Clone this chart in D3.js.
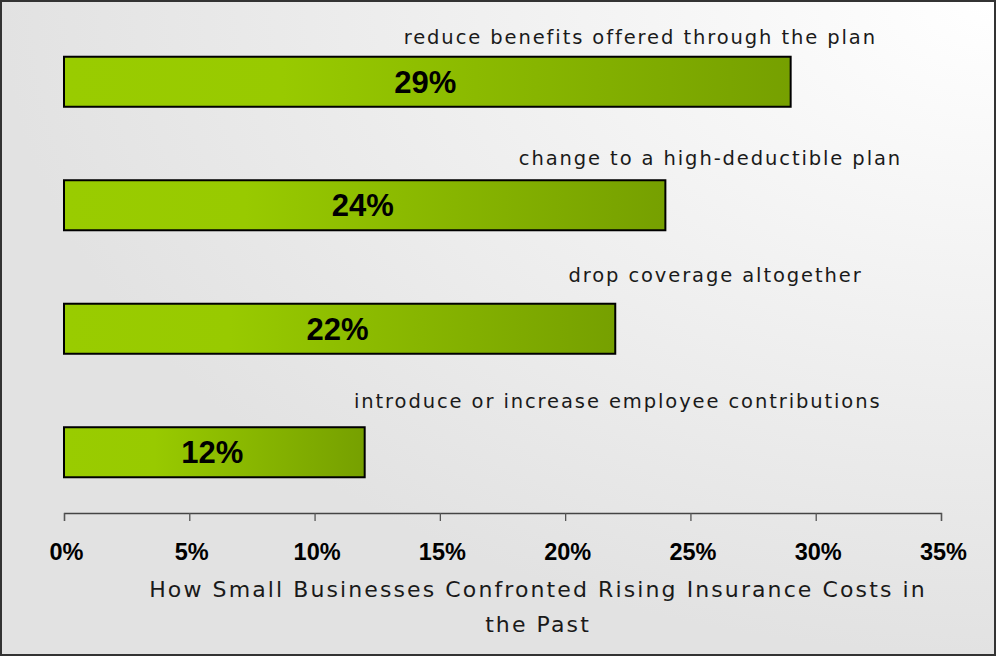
<!DOCTYPE html>
<html><head><meta charset="utf-8">
<script src="https://cdn.jsdelivr.net/npm/d3@7"></script>
<style>
html,body{margin:0;padding:0;background:#fff;}
svg{display:block;}
</style></head>
<body>
<svg id="chart" width="996" height="656"></svg>
<script>
// ---- data ----
const categories = [
  "reduce benefits offered through the plan",
  "change to a high-deductible plan",
  "drop coverage altogether",
  "introduce or increase employee contributions"
];
const values = [29, 24, 22, 12];
const tickValues = [0, 5, 10, 15, 20, 25, 30, 35];
const axisTitleLines = ["How Small Businesses Confronted Rising Insurance Costs in", "the Past"];

// ---- layout (not data) ----
const W = 996, H = 656;
const labelCentrePct = [23.0, 25.8, 26.0, 22.1];   // horizontal centre of category labels, in axis units
const labelGap = [13, 15, 22, 19];                  // px gap between label baseline and bar top

const svg = d3.select("#chart");
const defs = svg.append("defs");

const bg = defs.append("radialGradient").attr("id", "bg")
  .attr("cx", 1).attr("cy", 0).attr("r", 1).attr("fx", 1).attr("fy", 0);
bg.append("stop").attr("offset", 0).attr("stop-color", "#ffffff");
bg.append("stop").attr("offset", 1).attr("stop-color", "#e2e2e2");

const barG = defs.append("linearGradient").attr("id", "barG")
  .attr("x1", 0).attr("y1", 0).attr("x2", 1).attr("y2", 0);
barG.append("stop").attr("offset", 0).attr("stop-color", "#99cc00");
barG.append("stop").attr("offset", 0.3).attr("stop-color", "#98ca00");
barG.append("stop").attr("offset", 1).attr("stop-color", "#76a000");

svg.append("rect").attr("x", 1).attr("y", 1).attr("width", W - 2).attr("height", H - 2)
  .attr("fill", "url(#bg)").attr("stroke", "#333").attr("stroke-width", 2);

const x = d3.scaleLinear().domain([0, 35]).range([64, 941]);
const y = d3.scaleBand().domain(categories).range([20, 514])
  .paddingInner(0.595).paddingOuter(0.2975);

// axis
const axisG = svg.append("g").attr("transform", "translate(0,513)")
  .call(d3.axisBottom(x).tickValues(tickValues).tickSize(8).tickPadding(0).tickFormat(d => d + "%"));
axisG.select(".domain").attr("stroke", "#444").attr("stroke-width", 1.3);
axisG.selectAll(".tick line").attr("stroke", "#555").attr("stroke-width", 1.3);
axisG.selectAll(".tick text")
  .attr("x", 2)
  .attr("y", 47).attr("dy", null)
  .attr("fill", "#000")
  .style("font-family", "'Liberation Sans', Arial, sans-serif")
  .style("font-weight", "bold")
  .style("font-size", "23.5px");

// bars
svg.append("g").selectAll("rect").data(categories).join("rect")
  .attr("x", x(0))
  .attr("y", d => y(d))
  .attr("width", (d, i) => x(values[i]) - x(0))
  .attr("height", y.bandwidth())
  .attr("fill", "url(#barG)")
  .attr("stroke", "#000").attr("stroke-width", 2);

// value labels
svg.append("g").selectAll("text").data(categories).join("text")
  .attr("x", (d, i) => (x(0) + x(values[i])) / 2 - 2)
  .attr("y", d => y(d) + y.bandwidth() / 2 + 11)
  .attr("text-anchor", "middle")
  .style("font-family", "'Liberation Sans', Arial, sans-serif")
  .style("font-weight", "bold")
  .style("font-size", "31px")
  .attr("fill", "#000")
  .text((d, i) => values[i] + "%");

// category labels
svg.append("g").selectAll("text").data(categories).join("text")
  .attr("x", (d, i) => x(labelCentrePct[i]))
  .attr("y", (d, i) => y(d) - labelGap[i])
  .attr("text-anchor", "middle")
  .style("font-family", "'DejaVu Sans', Verdana, sans-serif")
  .style("font-size", "19.5px")
  .style("letter-spacing", "1.9px")
  .attr("fill", "#1a1a1a")
  .text(d => d);

// axis title
svg.append("g").selectAll("text").data(axisTitleLines).join("text")
  .attr("x", 538)
  .attr("y", (d, i) => 597 + i * 35)
  .attr("text-anchor", "middle")
  .style("font-family", "'DejaVu Sans', Verdana, sans-serif")
  .style("font-size", "22px")
  .style("letter-spacing", "2.1px")
  .attr("fill", "#1a1a1a")
  .text(d => d);
</script>
</body></html>
